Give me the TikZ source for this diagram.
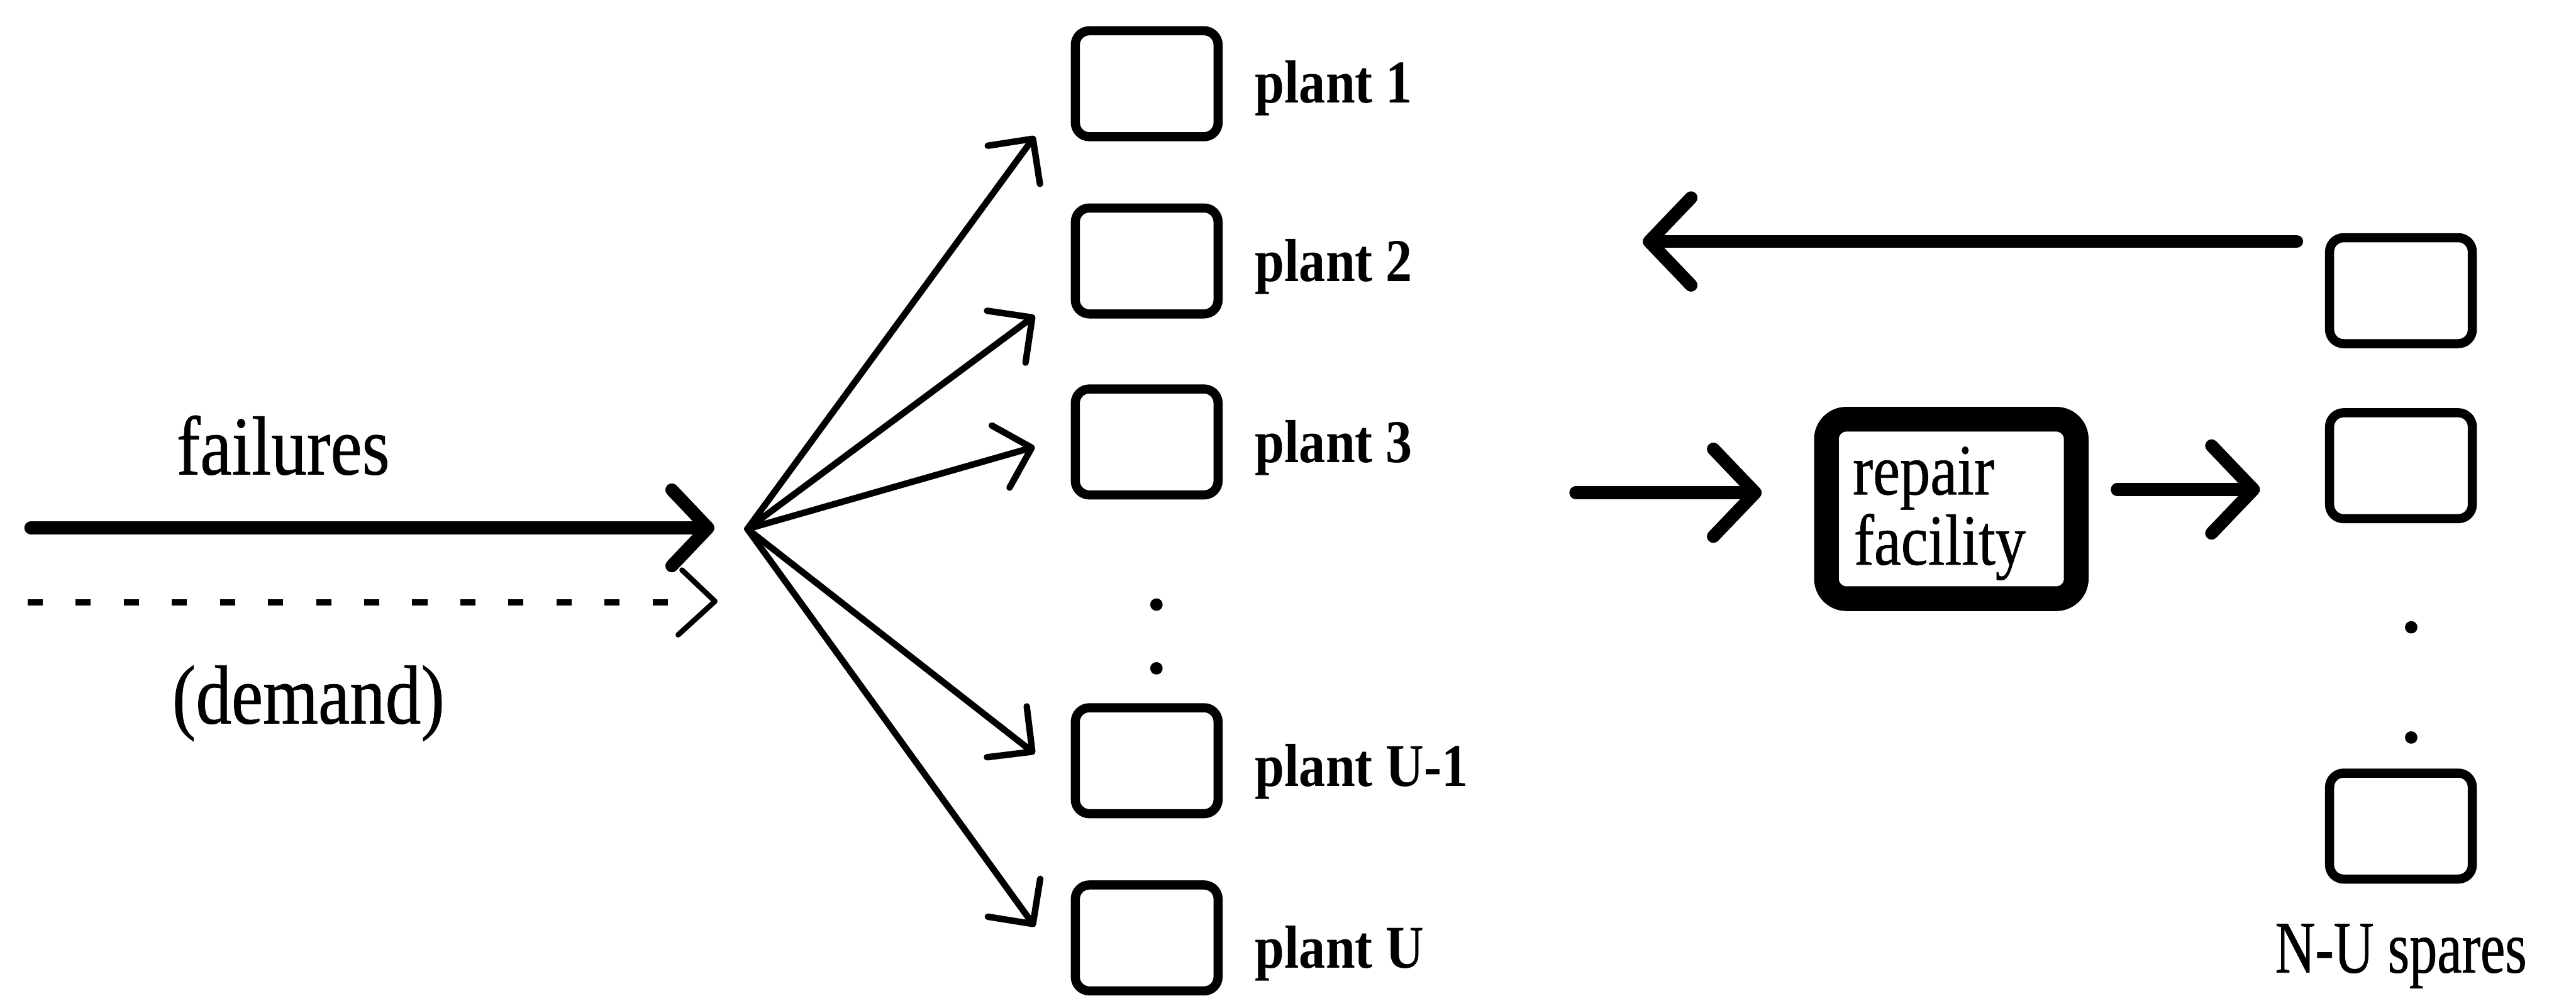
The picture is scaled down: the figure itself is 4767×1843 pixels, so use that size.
\documentclass[tikz,border=0pt]{standalone}
\usepackage{fontspec}
\setmainfont{Liberation Serif}
\newfontfamily\labelfont[FakeStretch=0.85,FakeBold=0.6]{Liberation Serif}
\newfontfamily\sparefont[FakeStretch=0.75,FakeBold=0.6]{Liberation Serif}
\newfontfamily\plantfont[FakeStretch=0.87]{Liberation Serif}
\newfontfamily\repairfont[FakeStretch=0.84,FakeBold=0.6]{Liberation Serif}
\usetikzlibrary{arrows.meta,calc}

\begin{document}
\begin{tikzpicture}[x=0.01cm,y=-0.01cm,
  unitbox/.style={draw, line width=4.8pt, rounded corners=0.26cm,
    minimum width=2.64cm, minimum height=1.96cm, inner sep=0pt},
  repairbox/.style={draw, line width=13pt, rounded corners=0.37cm,
    minimum width=4.62cm, minimum height=3.32cm, inner sep=0pt},
  plantlabel/.style={anchor=base west, inner sep=0pt,
    font=\plantfont\bfseries\fontsize{32}{36}\selectfont},
  biglabel/.style={inner sep=0pt, font=\labelfont\fontsize{44}{50}\selectfont},
  sparelabel/.style={inner sep=0pt, font=\sparefont\fontsize{39}{44}\selectfont},
  repairlabel/.style={anchor=base west, inner sep=0pt,
    font=\repairfont\fontsize{38}{42}\selectfont},
  fan/.style={line width=3.4pt, line cap=round,
    -{Straight Barb[length=17pt,width=34pt,round]}},
  heavy/.style={line width=6.8pt, line cap=round,
    -{Straight Barb[length=22pt,width=46pt,round]}},
  dotdot/.style={circle, fill, inner sep=0pt, minimum size=0.23cm}
]
\useasboundingbox (0,0) rectangle (4767,1843);

% the U plants
\node[unitbox] (p1)  at (2122,155)  {};
\node[unitbox] (p2)  at (2122,483)  {};
\node[unitbox] (p3)  at (2122,818)  {};
\node[unitbox] (pu1) at (2122,1408) {};
\node[unitbox] (pu)  at (2122,1736) {};
\node[plantlabel] (l1)  at (2322,190)  {plant 1};
\node[plantlabel] (l2)  at (2322,521)  {plant 2};
\node[plantlabel] (l3)  at (2322,856)  {plant 3};
\node[plantlabel] (lu1) at (2322,1455) {plant U-1};
\node[plantlabel] (lu)  at (2322,1792) {plant U};
\node[dotdot] (pd1) at (2140,1119) {};
\node[dotdot] (pd2) at (2140,1237) {};

% incoming failures and demand
\node[biglabel, anchor=base west] (fail) at (326,878)  {failures};
\node[biglabel, anchor=base west] (dem)  at (318,1339) {(demand)};
\coordinate (fstart) at (57,977);
\coordinate (ftip)   at (1322,977);
\draw[heavy, -{Straight Barb[length=19pt,width=40pt,round]}] (fstart) -- (ftip);
\coordinate (dstart) at (51,1115);
\coordinate (dend)   at (1240,1115);
\draw[line width=3.4pt, dash pattern=on 8pt off 17.3pt] (dstart) -- (dend);
\coordinate (dtip) at (1323,1113);
\draw[line width=2.8pt, line cap=round, line join=round]
  ($(dtip)+(-61,-58)$) -- (dtip) -- ($(dtip)+(-68,62)$);

% fan out to the plants
\coordinate (hub) at (1383,979);
\coordinate (t1) at (1915,252);
\coordinate (t2) at (1915,584);
\coordinate (t3) at (1915,827);
\coordinate (t4) at (1915,1395);
\coordinate (t5) at (1915,1715);
\foreach \t in {t1,t2,t3,t4,t5} \draw[fan] (hub) -- (\t);

% spares and repair loop
\node[unitbox] (s1) at (4443,538)  {};
\node[unitbox] (s2) at (4443,862)  {};
\node[unitbox] (s3) at (4443,1529) {};
\node[dotdot] (sd1) at (4462,1161) {};
\node[dotdot] (sd2) at (4462,1365) {};
\node[sparelabel, anchor=base] (spl) at (4443,1800) {N-U spares};

\node[repairbox] (rep) at (3611,942) {};
\node[repairlabel] (rt1) at (3428,915)  {repair};
\node[repairlabel] (rt2) at (3430,1045) {facility};

\coordinate (back)  at (4250,447);
\coordinate (backt) at (3040,447);
\draw[heavy] (back) -- (backt);
\coordinate (inS) at (2916,912);
\coordinate (inT) at (3260,912);
\draw[heavy] (inS) -- (inT);
\coordinate (outS) at (3918,906);
\coordinate (outT) at (4182,906);
\draw[heavy] (outS) -- (outT);
\end{tikzpicture}
\end{document}
